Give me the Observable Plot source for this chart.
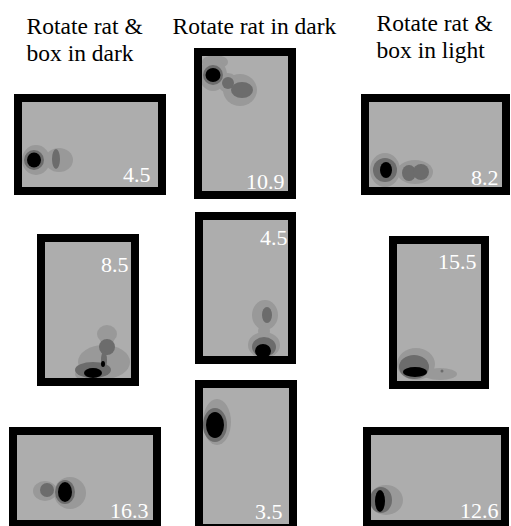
<!DOCTYPE html>
<html><head><meta charset="utf-8">
<script src="https://cdn.jsdelivr.net/npm/d3@7"></script>
<script src="https://cdn.jsdelivr.net/npm/@observablehq/plot@0.6"></script>
<style>html,body{margin:0;padding:0;background:#fff;}</style>
</head><body><div id="chart"></div>
<script>
// ---- data ----
const conditions = ["Rotate rat &\nbox in dark", "Rotate rat in dark", "Rotate rat &\nbox in light"];
const boxColumn = [0, 1, 2, 0, 1, 2, 0, 1, 2];
const boxRow    = [0, 0, 0, 1, 1, 1, 2, 2, 2];
const peakRates = ["4.5", "10.9", "8.2", "8.5", "4.5", "15.5", "16.3", "3.5", "12.6"];
// place-field contour pieces: [box, level (1 low, 2 mid, 3 peak), centre u, centre v, radius u, radius v] in arena units
const fieldPieces = [
  [0,1,14,58,14,15],[0,1,37,58,14,12],[0,2,12,58,10,10],[0,2,34,57,4,10],[0,3,12,58,7,7.5],
  [1,1,13,6,13,7],[1,1,11,19,14,16],[1,1,38,34,17,16],[1,1,26,27,10,10],
  [1,2,11,19,10,10],[1,2,26,27,6,6],[1,2,40,34,11,8],[1,3,11,19,7.5,7],
  [2,1,16,68,15,17],[2,1,46,70,18,12],[2,2,16,68,12,12],[2,2,40,71,7,8],[2,2,52,70,8,8],[2,3,17,68,6,8],
  [3,1,62,92,10,9],[3,1,59,120,26,17],[3,1,38,132,8,6],[3,2,62,105,8,8],[3,2,59,118,3,9],[3,2,48,128,18,8],[3,3,48,131,9,5],[3,3,58,122,2,3],
  [4,1,62,95,13,15],[4,1,61,125,16,13],[4,1,61,111,6,6],[4,2,64,95,5,8],[4,2,61,127,12,10],[4,3,60,131,8,7],
  [5,1,19,120,19,16],[5,1,43,130,17,6],[5,2,17,123,15,12],[5,3,18,128,12,5],[5,2,45,127,1.5,1.5],
  [6,1,28,56,12,10],[6,1,53,58,16,16],[6,2,30,55,7,7],[6,2,48,57,10,12],[6,3,48,57,7,10],
  [7,1,14,34,14,23],[7,2,12,37,12,17],[7,3,12,37,9,13],
  [8,1,15,65,17,15],[8,2,10,65,11,13],[8,3,9,66,5,11]
];

// ---- layout (outer frame of each arena, number anchor) ----
const frames = [
  {x0:14,  y0:94,  x1:166, y1:195, nx:150, ny:181},
  {x0:194, y0:48,  x1:296, y1:199, nx:284, ny:188},
  {x0:361, y0:94,  x1:510, y1:195, nx:498, ny:184},
  {x0:37,  y0:234, x1:139, y1:386, nx:128, ny:271},
  {x0:195, y0:212, x1:296, y1:364, nx:287, ny:244},
  {x0:389, y0:236, x1:489, y1:389, nx:476, ny:268},
  {x0:9,   y0:427, x1:161, y1:528, nx:148, ny:517},
  {x0:195, y0:380, x1:297, y1:532, nx:282, ny:518},
  {x0:363, y0:427, x1:509, y1:528, nx:498, ny:517}
];
const titlePos = [{x:26, y:31}, {x:172, y:31}, {x:376, y:28}];
const border = 8;
const levelColors = ["#999999", "#6c6c6c", "#000000"];
const serif = "'Liberation Serif', 'Times New Roman', serif";

// ---- derived tables ----
const boxes = peakRates.map((rate, i) => ({i, col: boxColumn[i], row: boxRow[i], rate, ...frames[i]}));
const pieces = fieldPieces.map(([b, level, u, v, ru, rv]) => {
  const f = frames[b];
  const ix = f.x0 + border, iy = f.y0 + border;
  return {b, level, x1: ix + u - ru, x2: ix + u + ru, y1: iy + v - rv, y2: iy + v + rv};
}).sort((a, b) => a.level - b.level);
const titles = conditions.map((t, c) => ({t, ...titlePos[c]}));
const fs = 23.5;

const chart = Plot.plot({
  width: 511, height: 526,
  margin: 0,
  x: {domain: [0, 511], range: [0, 511], axis: null},
  y: {domain: [0, 526], range: [0, 526], axis: null},
  style: {background: "#fff"},
  marks: [
    // arena floor
    Plot.rect(boxes, {x1: d => d.x0 + border, x2: d => d.x1 - border, y1: d => d.y0 + border, y2: d => d.y1 - border, fill: "#adadad"}),
    // firing-rate contours
    Plot.rect(pieces, {x1: "x1", x2: "x2", y1: "y1", y2: "y2", fill: d => levelColors[d.level - 1], rx: 1000, ry: 1000}),
    // arena walls
    Plot.rect(boxes, {x1: d => d.x0 + border / 2, x2: d => d.x1 - border / 2, y1: d => d.y0 + border / 2, y2: d => d.y1 - border / 2,
      fill: "none", stroke: "#000", strokeWidth: border}),
    // peak rates
    Plot.text(boxes, {x: "nx", y: d => d.ny - 0.32 * 22, text: "rate", fill: "#fff", fontSize: 22,
      fontFamily: serif, textAnchor: "end"}),
    // condition titles
    Plot.text(titles, {x: "x", y: d => d.y - 0.71 * fs, text: "t", fill: "#000", fontSize: fs, fontFamily: serif,
      textAnchor: "start", lineAnchor: "top", lineHeight: 1.15})
  ]
});
document.getElementById("chart").append(chart);
</script>
</body></html>
